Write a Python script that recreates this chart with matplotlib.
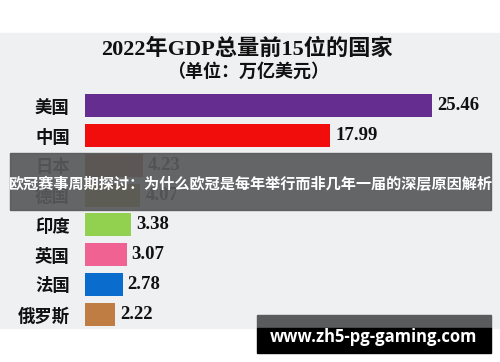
import matplotlib.pyplot as plt
from matplotlib.patches import Rectangle

plt.rcParams['font.family'] = ['Noto Sans CJK SC', 'DejaVu Sans']

countries = ['美国', '中国', '日本', '德国', '印度', '英国', '法国', '俄罗斯']
gdp = [25.46, 17.99, 4.23, 4.07, 3.38, 3.07, 2.78, 2.22]
colors = ['#662d91', '#f20d0d', '#8b4a1c', '#a08010', '#92d050', '#f06292', '#0a6ccc', '#c07d43']

W, H = 500, 362
fig = plt.figure(figsize=(5, 3.62), dpi=100)
fig.patch.set_facecolor('white')

# фон (в пикселях)
bg = fig.add_axes([0, 0, 1, 1], zorder=0)
bg.set_xlim(0, W)
bg.set_ylim(H, 0)
bg.axis('off')
bg.add_patch(Rectangle((0, 33), W, 295, color='#eef0f2'))
bg.text(247, 49, '2022年GDP总量前15位的国家', ha='center', va='center',
        fontsize=16, fontweight='bold', color='#111111',
        family=['Liberation Serif', 'Noto Sans CJK SC'])
bg.text(248, 71, '（单位：万亿美元）', ha='center', va='center',
        fontsize=13, fontweight='bold', color='#111111')

# график
ax = fig.add_axes([85 / W, 1 - 329 / H, 409 / W, 238 / H], zorder=1)
ax.patch.set_alpha(0)
y = list(range(len(countries)))
ax.barh(y, gdp, height=0.78, color=colors)
ax.set_xlim(0, 30)
ax.set_ylim(len(countries) - 0.5, -0.5)
for i, v in enumerate(gdp):
    ax.text(v + 0.35, i, f'{v:.2f}', va='center', ha='left', fontsize=13.5,
            fontweight='bold', family='Liberation Serif', color='#111111')
ax.set_yticks(y)
ax.set_yticklabels(countries, fontsize=12.5, fontweight='bold', color='#111111')
ax.tick_params(axis='y', length=0, pad=11)
ax.set_xticks([])
for s in ax.spines.values():
    s.set_visible(False)

# поверх: полоса с заголовком и водяной знак
fg = fig.add_axes([0, 0, 1, 1], zorder=2)
fg.set_xlim(0, W)
fg.set_ylim(H, 0)
fg.axis('off')
fg.patch.set_alpha(0)
fg.add_patch(Rectangle((10, 153), 481, 57, color='#58595b', alpha=0.92))
fg.text(250, 183, '欧冠赛事周期探讨：为什么欧冠是每年举行而非几年一届的深层原因解析',
        ha='center', va='center', fontsize=10.9, fontweight='bold', color='white')
fg.add_patch(Rectangle((257, 315), 234, 13, color='#5a5b5d'))
fg.add_patch(Rectangle((257, 328), 234, 25, color='black'))
fg.text(374, 337, 'www.zh5-pg-gaming.com', ha='center', va='center',
        fontsize=12, fontweight='bold', family='Open Sans', color='white')

fig.savefig('out.png', dpi=100)
